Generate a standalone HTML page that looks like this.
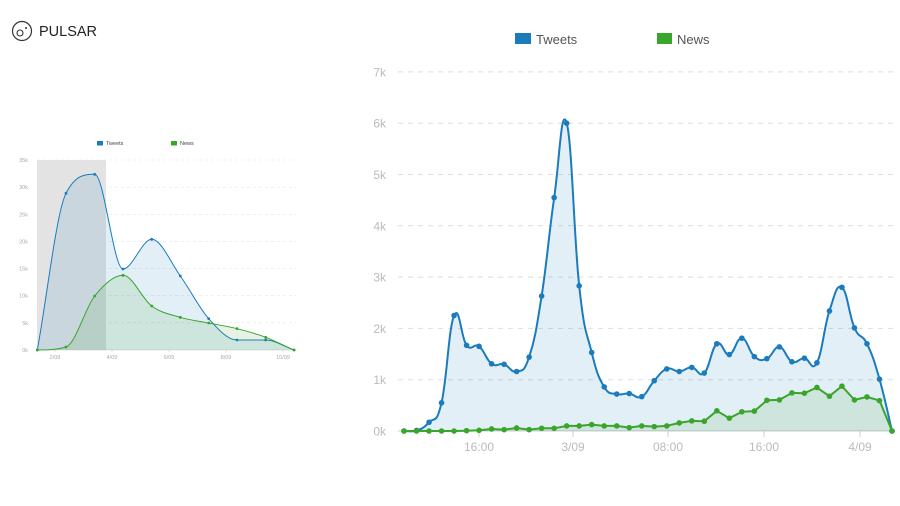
<!DOCTYPE html>
<html><head><meta charset="utf-8">
<style>
html,body{margin:0;padding:0;background:#fff;width:900px;height:506px;overflow:hidden}
svg{display:block;font-family:"Liberation Sans",sans-serif}
</style></head>
<body>
<svg id="s" width="900" height="506" viewBox="0 0 900 506" xmlns="http://www.w3.org/2000/svg">
<circle cx="22" cy="31" r="9.5" fill="none" stroke="#333" stroke-width="1.2"/>
<circle cx="20" cy="33" r="3" fill="none" stroke="#333" stroke-width="1.1"/>
<circle cx="26" cy="28" r="1" fill="#333"/>
<text x="39" y="36" font-size="14.5" fill="#222">PULSAR</text>
<g id="left"></g>
<g id="right"></g>
</svg>
<script>
var NS="http://www.w3.org/2000/svg";
function el(p,t,a,txt){var e=document.createElementNS(NS,t);for(var k in a)e.setAttribute(k,a[k]);if(txt!=null)e.textContent=txt;p.appendChild(e);return e;}
function spline(pts,t){var d="M"+pts[0][0]+","+pts[0][1];for(var i=0;i<pts.length-1;i++){var p0=pts[i-1]||pts[i],p1=pts[i],p2=pts[i+1],p3=pts[i+2]||p2;var c1x=p1[0]+(p2[0]-p0[0])/6*t*2,c1y=p1[1]+(p2[1]-p0[1])/6*t*2,c2x=p2[0]-(p3[0]-p1[0])/6*t*2,c2y=p2[1]-(p3[1]-p1[1])/6*t*2;d+=" C"+c1x.toFixed(1)+","+c1y.toFixed(1)+" "+c2x.toFixed(1)+","+c2y.toFixed(1)+" "+p2[0].toFixed(1)+","+p2[1].toFixed(1);}return d;}
function monotone(p){var n=p.length,dx=[],s=[],m=[];for(var i=0;i<n-1;i++){dx[i]=p[i+1][0]-p[i][0];s[i]=(p[i+1][1]-p[i][1])/dx[i];}
m[0]=s[0];m[n-1]=s[n-2];for(i=1;i<n-1;i++){m[i]=(s[i-1]*s[i]<=0)?0:(s[i-1]+s[i])/2;}
for(i=0;i<n-1;i++){if(s[i]==0){m[i]=0;m[i+1]=0;continue;}var a=m[i]/s[i],b=m[i+1]/s[i],h=a*a+b*b;if(h>9){var t=3/Math.sqrt(h);m[i]=t*a*s[i];m[i+1]=t*b*s[i];}}
var d="M"+p[0][0]+","+p[0][1];for(i=0;i<n-1;i++){var h3=dx[i]/3;d+=" C"+(p[i][0]+h3).toFixed(1)+","+(p[i][1]+m[i]*h3).toFixed(1)+" "+(p[i+1][0]-h3).toFixed(1)+","+(p[i+1][1]-m[i+1]*h3).toFixed(1)+" "+p[i+1][0].toFixed(1)+","+p[i+1][1].toFixed(1);}return d;}
var BL="#1a7bbd",GR="#3aa52b";
function area(G,pts,col,fill,base,r,sw,d){el(G,"path",{d:d+" L"+pts[pts.length-1][0]+","+base+" L"+pts[0][0]+","+base+"Z",fill:fill});el(G,"path",{d:d,fill:"none",stroke:col,"stroke-width":sw});pts.forEach(function(p){el(G,"circle",{cx:p[0],cy:p[1],r:r,fill:col});});}
// LEFT
var L=document.getElementById("left");
el(L,"rect",{x:37,y:160,width:69,height:190,fill:"#e3e3e3"});
for(var i=0;i<=7;i++){var y=350-i*190/7;if(i>0)el(L,"line",{x1:37,x2:296,y1:y,y2:y,stroke:"#e4e4e4","stroke-width":0.6,"stroke-dasharray":"3,3"});el(L,"text",{x:28,y:y+2,"font-size":5.5,fill:"#aaa","text-anchor":"end"},(i*5)+"k");}
el(L,"line",{x1:37,x2:296,y1:350,y2:350,stroke:"#ccc","stroke-width":0.6});
[[55,"2/09"],[112,"4/09"],[169,"6/09"],[226,"8/09"],[283,"10/09"]].forEach(function(a){el(L,"line",{x1:a[0],x2:a[0],y1:350,y2:352,stroke:"#ccc","stroke-width":0.6});el(L,"text",{x:a[0],y:359,"font-size":5.5,fill:"#aaa","text-anchor":"middle"},a[1]);});
var lx=[37.3,66,94.7,123,151.7,180.3,208.7,237,265.7,294];
var lb=[690,220,163,447,358,468,596,660,660,690].map(function(v,i){return[lx[i],120+v/3];});
var lg=[690,681,528,466,558,592,609,626,652,690].map(function(v,i){return[lx[i],120+v/3];});
area(L,lb,BL,"rgba(26,123,189,0.12)",350,1.4,1,monotone(lb));
area(L,lg,GR,"rgba(58,165,43,0.13)",350,1.4,1,monotone(lg));
el(L,"rect",{x:97,y:141,width:6,height:4.5,fill:BL});el(L,"text",{x:106,y:145,"font-size":5.5,fill:"#444"},"Tweets");
el(L,"rect",{x:171,y:141,width:6,height:4.5,fill:GR});el(L,"text",{x:180,y:145,"font-size":5.5,fill:"#444"},"News");
// RIGHT
var R=document.getElementById("right");
for(var i=0;i<=7;i++){var y=431-i*51.3;if(i>0)el(R,"line",{x1:398,x2:895,y1:y,y2:y,stroke:"#ddd","stroke-width":1,"stroke-dasharray":"5,5"});el(R,"text",{x:386,y:y+4.5,"font-size":12,fill:"#bbb","text-anchor":"end"},i+"k");}
el(R,"line",{x1:398,x2:895,y1:431,y2:431,stroke:"#ccc","stroke-width":1});
[[479,"16:00"],[573,"3/09"],[668,"08:00"],[764,"16:00"],[860,"4/09"]].forEach(function(a){el(R,"line",{x1:a[0],x2:a[0],y1:431,y2:437,stroke:"#ccc"});el(R,"text",{x:a[0],y:451,"font-size":12,fill:"#bbb","text-anchor":"middle"},a[1]);});
var bv=[0,0.01,0.17,0.55,2.25,1.67,1.65,1.31,1.30,1.16,1.44,2.63,4.55,6.0,2.83,1.53,0.86,0.72,0.73,0.67,0.98,1.21,1.16,1.24,1.13,1.70,1.49,1.81,1.45,1.41,1.64,1.35,1.42,1.33,2.34,2.80,2.01,1.70,1.01,0];
var gz=[512,512,512,512,512,511,510,506,508,503,508,504,504,497,497,493,497,497,502,497,499,497,488,482,483,452,474,455,453,421,420,399,400,383,409,379,420,411,422,512];
var step=488/39;
var rb=bv.map(function(v,i){return[404+i*step,431-v*51.3];});
var rg=gz.map(function(v,i){return[404+i*step,431-(512-v)/152*51.3];});
area(R,rb,BL,"rgba(26,123,189,0.12)",431,2.8,2,spline(rb,0.65));
var d=rg.map(function(p,i){return(i?"L":"M")+p[0].toFixed(1)+","+p[1].toFixed(1);}).join(" ");
area(R,rg,GR,"rgba(58,165,43,0.13)",431,2.8,2,d);
el(R,"rect",{x:515,y:33,width:16,height:11,fill:BL});el(R,"text",{x:536,y:44,"font-size":13,fill:"#555"},"Tweets");
el(R,"rect",{x:657,y:33,width:15,height:11,fill:GR});el(R,"text",{x:677,y:44,"font-size":13,fill:"#555"},"News");
</script>
</body></html>
